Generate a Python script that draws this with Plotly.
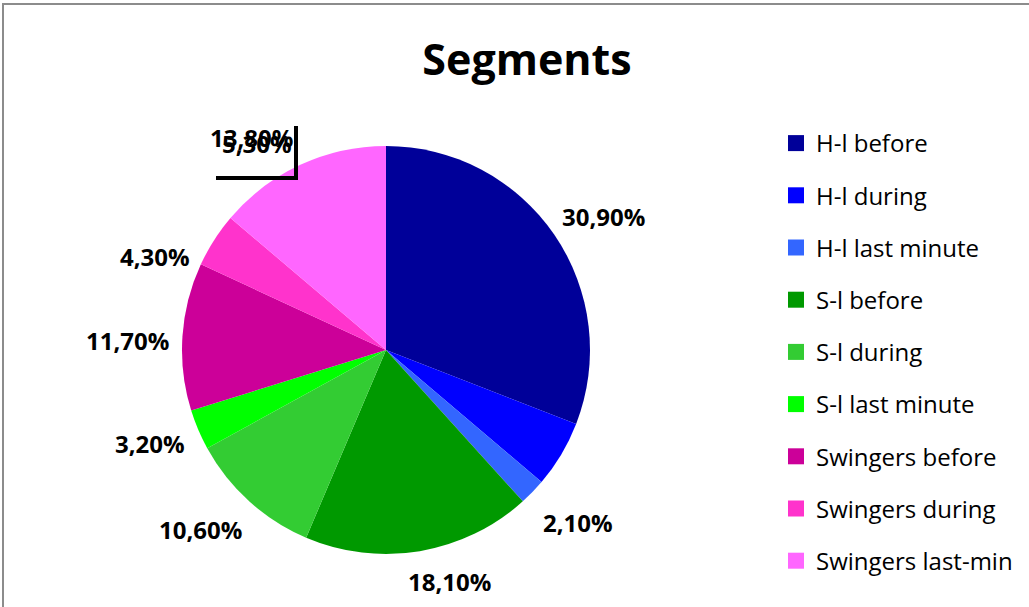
import plotly.graph_objects as go

W, H = 1029, 607

labels = ["H-l before", "H-l during", "H-l last minute",
          "S-l before", "S-l during", "S-l last minute",
          "Swingers before", "Swingers during", "Swingers last-min"]
values = [30.9, 5.3, 2.1, 18.1, 10.6, 3.2, 11.7, 4.3, 13.8]
colors = ["#000099", "#0000FF", "#3366FF",
          "#009900", "#33CC33", "#00FF00",
          "#CC0099", "#FF33CC", "#FF66FF"]

# label centres (pixels), as Excel placed them
label_pos = [(603, 216), (257, 144), (578, 522),
             (449, 581), (200, 529), (150, 443),
             (127, 340), (155, 256), (251, 137)]


def px(x):
    return x / W


def py(y):
    return 1 - y / H


fig = go.Figure()

fig.add_trace(go.Pie(
    labels=labels,
    values=values,
    sort=False,
    direction="clockwise",
    rotation=0,
    marker=dict(colors=colors, line=dict(width=0)),
    textinfo="none",
    hoverinfo="label+percent",
    showlegend=False,
    domain=dict(x=[px(182), px(590)], y=[py(554), py(146)]),
))

# legend built from dummy traces so the item spacing can be set
for i, (lab, col) in enumerate(zip(labels, colors)):
    fig.add_trace(go.Scatter(
        x=[None], y=[None], mode="markers", name=lab,
        marker=dict(symbol="square", size=16, color=col, line=dict(width=0)),
        legendgroup=f"g{i}", showlegend=True,
    ))

annotations = []
for v, (x, y) in zip(values, label_pos):
    annotations.append(dict(
        x=px(x), y=py(y), xref="paper", yref="paper",
        text=f"{v:.2f}".replace(".", ",") + "%",
        showarrow=False, xanchor="center", yanchor="middle",
        font=dict(family="Open Sans", size=24, color="black", weight="bold"),
    ))

fig.update_layout(
    width=W, height=H,
    margin=dict(l=0, r=0, t=0, b=0),
    paper_bgcolor="white",
    plot_bgcolor="white",
    title=dict(text="<b>Segments</b>", x=px(527), y=py(60),
               xanchor="center", yanchor="middle",
               font=dict(family="Open Sans", size=43, color="black")),
    xaxis=dict(visible=False),
    yaxis=dict(visible=False),
    legend=dict(x=px(776), y=py(121), xanchor="left", yanchor="top",
                font=dict(family="Open Sans", size=24, color="black"),
                tracegroupgap=18, bgcolor="rgba(0,0,0,0)"),
    annotations=annotations,
    shapes=[
        dict(type="rect", xref="paper", yref="paper",
             x0=px(3), x1=px(W + 10), y0=py(H + 10), y1=py(4),
             line=dict(color="#8c8c8c", width=2)),
        dict(type="path", xref="paper", yref="paper",
             path=f"M {px(216)} {py(178)} L {px(296)} {py(178)} L {px(296)} {py(126)}",
             line=dict(color="black", width=4)),
    ],
)

fig.write_html("out.html", config={"displayModeBar": False},
               post_script="document.body.style.margin='0px';")
